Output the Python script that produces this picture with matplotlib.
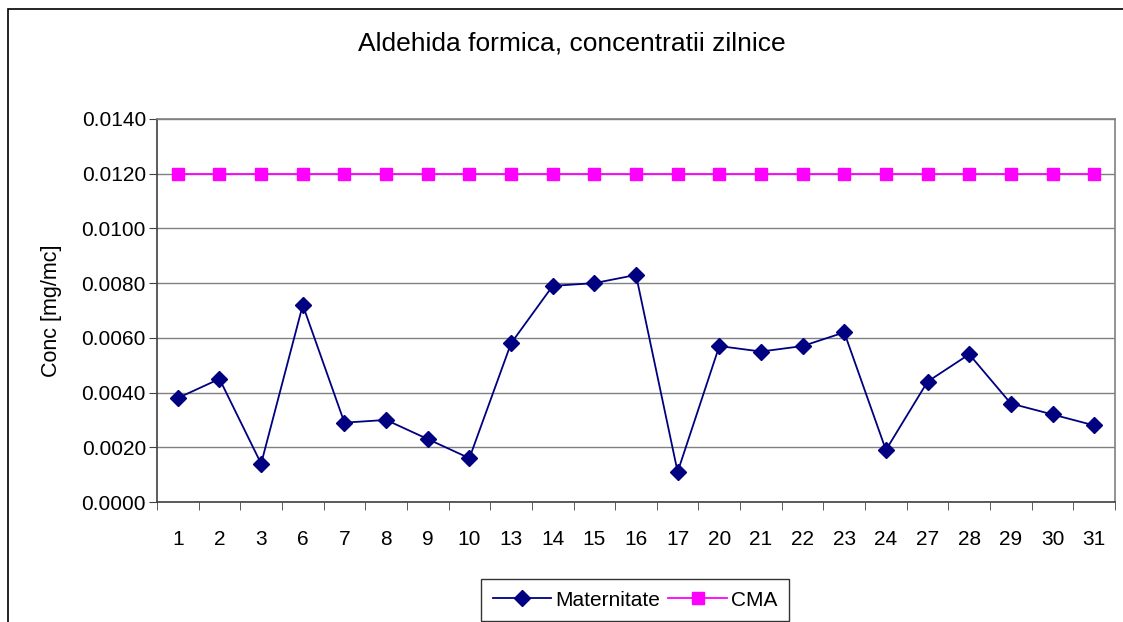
import matplotlib
matplotlib.use("Agg")
import matplotlib.pyplot as plt
from matplotlib.patches import Rectangle
import numpy as np

days = ["1", "2", "3", "6", "7", "8", "9", "10", "13", "14", "15", "16", "17",
        "20", "21", "22", "23", "24", "27", "28", "29", "30", "31"]
maternitate = [0.0038, 0.0045, 0.0014, 0.0072, 0.0029, 0.0030, 0.0023, 0.0016,
               0.0058, 0.0079, 0.0080, 0.0083, 0.0011, 0.0057, 0.0055, 0.0057,
               0.0062, 0.0019, 0.0044, 0.0054, 0.0036, 0.0032, 0.0028]
cma = [0.0120] * len(days)
yticks = [0.0000, 0.0020, 0.0040, 0.0060, 0.0080, 0.0100, 0.0120, 0.0140]

plt.rcParams['font.family'] = ['Liberation Sans', 'DejaVu Sans']

W, H = 1123, 622
fig = plt.figure(figsize=(W / 100, H / 100), dpi=100)
fig.patch.set_facecolor('white')

# outer chart frame (extends beyond right/bottom edge)
fig.add_artist(Rectangle((8 / W, -0.1), 1.2, (H - 9) / H + 0.1, transform=fig.transFigure,
                         fill=False, edgecolor='black', linewidth=1.2))

left, right, top, bottom = 157, 1115, 119, 502
ax = fig.add_axes([left / W, 1 - bottom / H, (right - left) / W, (bottom - top) / H])

x = np.arange(len(days))
ax.plot(x, maternitate, color='#000080', marker='D', markersize=8.5, linewidth=1.3,
        label='Maternitate')
ax.plot(x, cma, color='#FF00FF', marker='s', markersize=9, linewidth=1.3, label='CMA')

ax.set_xlim(-0.5, len(days) - 0.5)
ax.set_ylim(0, 0.014)
ax.set_yticks(yticks)
ax.set_yticklabels([f"{v:.4f}" for v in yticks], fontsize=15)
ax.yaxis.grid(True, color='#808080', linewidth=1)
ax.set_axisbelow(True)

ax.set_xticks(x)
ax.set_xticklabels(days, fontsize=15)
ax.set_xticks(np.arange(-0.5, len(days), 1), minor=True)
ax.tick_params(axis='x', which='major', length=0, pad=20)
ax.tick_params(axis='x', which='minor', length=6, color='#404040')
ax.tick_params(axis='y', length=6, color='#404040', pad=2)

for s in ['left', 'bottom']:
    ax.spines[s].set_color('#404040')
    ax.spines[s].set_linewidth(1.2)
for s in ['right', 'top']:
    ax.spines[s].set_color('#808080')
    ax.spines[s].set_linewidth(1.2)

ax.set_ylabel('Conc [mg/mc]', fontsize=15.5, labelpad=14)

fig.text(572 / W, 1 - 44 / H, 'Aldehida formica, concentratii zilnice',
         ha='center', va='center', fontsize=19)

leg = fig.legend(loc='center', bbox_to_anchor=(635 / W, 1 - 600 / H), ncol=2,
                 fontsize=15, frameon=True, fancybox=False, edgecolor='black',
                 handlelength=2.8, columnspacing=0.4, handletextpad=0.2,
                 borderpad=0.55)
leg.get_frame().set_linewidth(1.0)

fig.savefig('out.png', dpi=100, facecolor='white')
